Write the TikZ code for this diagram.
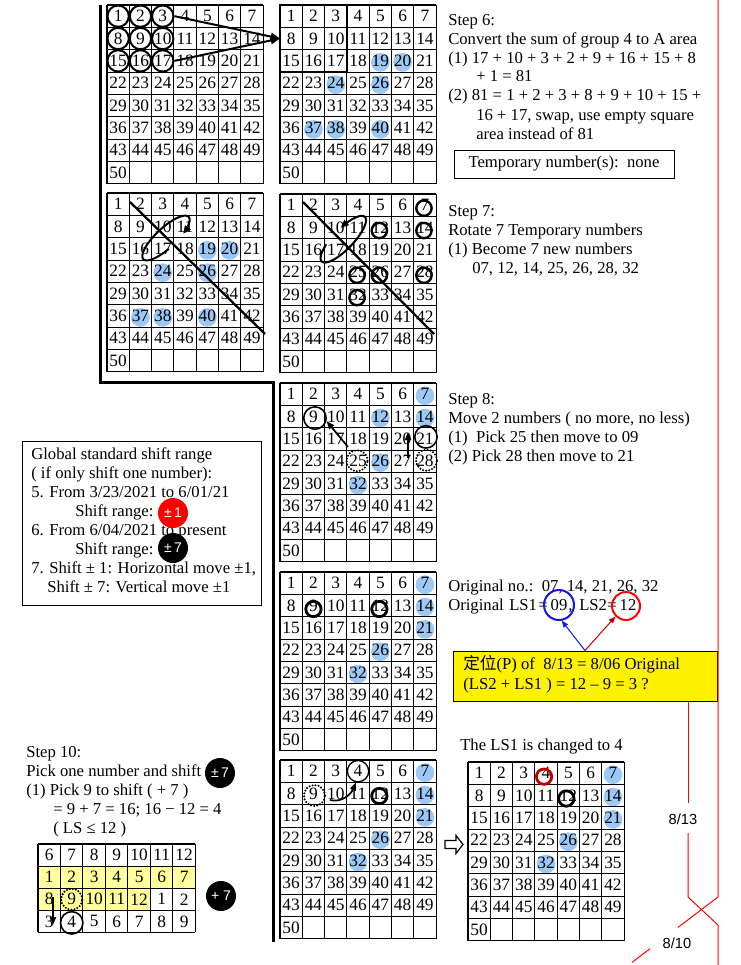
\documentclass[tikz,border=0pt]{standalone}
\usepackage{fontspec}
\setmainfont{Liberation Serif}
\newfontfamily\sansf{Liberation Sans}
\newfontfamily\cjkf{Noto Sans CJK SC}
\usetikzlibrary{arrows.meta}
\pgfdeclarelayer{bg}
\pgfsetlayers{bg,main}
\definecolor{bluedot}{RGB}{155,200,245}
\definecolor{lightyel}{RGB}{255,255,155}
\definecolor{dred}{RGB}{192,0,0}
\definecolor{lsblue}{RGB}{20,20,230}
\definecolor{redline}{RGB}{255,0,0}
\newcommand\mytxt{\fontsize{12.5pt}{15pt}\selectfont}
\newcommand\mynum{\fontsize{13pt}{15pt}\selectfont}
\newcommand\mysans{\sansf\fontsize{10.5pt}{12pt}\selectfont}
\newcommand\mylab{\sansf\fontsize{11pt}{13pt}\selectfont}
\def\cw{22.3}
\def\ch{22.35}
\newcommand\lotgrid[3]{%
  \foreach \kk in {0,...,7} \draw[gl] ({#2+\cw*\kk},#3) -- ++(0,{8*\ch});
  \foreach \kk in {0,...,8} \draw[gl] (#2,{#3+\ch*\kk}) -- ++({7*\cw},0);
  \foreach \rr in {0,...,7} {\foreach \cc in {0,...,6} {
    \pgfmathtruncatemacro\nn{7*\rr+\cc+1}
    \ifnum\nn<51 \node[num] (#1-\nn) at ({#2+\cw*(\cc+0.5)},{#3+\ch*(\rr+0.5)}) {\nn};\fi
  }}%
}
\newcommand\bluedots[2]{%
  \begin{pgfonlayer}{bg}
  \foreach \bb in {#2} {\fill[bluedot] ([shift={(0,1.5)}]#1-\bb) circle[radius=7pt];}
  \end{pgfonlayer}%
}
\newcommand\ringat[4]{\node[#1] (#2) at ([shift={#3}]#4) {};}
\begin{document}
\begin{tikzpicture}[x=0.75pt,y=-0.75pt,
  gl/.style={line width=0.8pt},
  num/.style={font=\mynum, inner sep=0pt},
  txt/.style={font=\mytxt, anchor=west, inner sep=0pt, text height=0.7em, text depth=0.22em},
  txtc/.style={font=\mytxt, inner sep=0pt, text height=0.7em, text depth=0.22em},
  ringA/.style={circle, draw, line width=1.5pt, minimum size=16pt, inner sep=0pt},
  ringB/.style={circle, draw, line width=1.8pt, minimum size=11.5pt, inner sep=0pt},
  ringH/.style={circle, draw, line width=2.1pt, minimum size=11.5pt, inner sep=0pt},
  ringC/.style={circle, draw, line width=1.2pt, minimum size=16.8pt, inner sep=0pt},
  ringT/.style={circle, draw, line width=1pt, minimum size=16pt, inner sep=0pt},
  ringD/.style={circle, draw, line width=1.7pt, minimum size=15.8pt, inner sep=0pt, dash pattern=on 0pt off 2.3pt, line cap=round},
  badge/.style={circle, fill=black, text=white, minimum size=22.5pt, inner sep=0pt, font=\mysans},
  arr/.style={line width=1.5pt, -{Triangle[length=7pt,width=5.5pt]}},
  arrB/.style={line width=1.3pt, -{Triangle[length=6pt,width=4.5pt]}},
  arrE/.style={line width=1.5pt, -{Triangle[length=6pt,width=5pt]}},
  thinarr/.style={line width=0.75pt, -{Triangle[length=5pt,width=4pt]}},
  redl/.style={draw=redline, line width=0.75pt},
  boxl/.style={draw, line width=0.75pt, inner sep=0pt}]
\begin{pgfonlayer}{bg}
\fill[white] (0,0) rectangle (740,965);
\end{pgfonlayer}
\useasboundingbox (0,0) rectangle (740,965);

% ---------- grids ----------
\lotgrid{g1}{107}{5}
\lotgrid{g2}{280}{5}
\lotgrid{g3}{107}{193}
\lotgrid{g4}{280}{194}
\lotgrid{g5}{280}{383}
\lotgrid{g6}{280}{572}
\lotgrid{g7}{280}{760}
\lotgrid{g8}{468}{762}

\bluedots{g2}{19,20,24,26,37,38,40}
\bluedots{g3}{19,20,24,26,37,38,40}
\bluedots{g5}{7,12,14,26,32}
\bluedots{g6}{7,14,21,26,32}
\bluedots{g7}{7,14,21,26,32}
\bluedots{g8}{7,14,21,26,32}

% ---------- thick L line ----------
\draw[line width=2.25pt] (100,5) -- (100,382) -- (273,382) -- (273,942);

% ---------- step 6 grids ----------
\foreach \q in {1,2,3,8,9,10,15,16,17} {\node[ringA] (r1-\q) at (g1-\q) {};}
\coordinate (tip) at (280,38.5);
\draw[arr] (r1-3.east) -- (tip);
\draw[arr] (r1-17.east) -- (tip);
\draw[line width=1.7pt] (280,5) rectangle ++({3*\cw},{3*\ch});

% ---------- step 7 grids ----------
\draw[line width=1.7pt] (130,202) -- (265,334);
\draw[line width=1.7pt] (303,202) -- (434,334);
\draw[arrE] plot[domain=100:420, samples=60, smooth] ({166+31*cos(\x)*0.731+10*sin(\x)*0.682},{238-31*cos(\x)*0.682+10*sin(\x)*0.731});
\draw[arrE] plot[domain=240:-78, samples=60, smooth] ({343.3+31*cos(\x)*0.695+10*sin(\x)*0.719},{239.2-31*cos(\x)*0.719+10*sin(\x)*0.695});
\foreach \q in {7,12,14,25,26,28,32} {\ringat{ringB}{r4-\q}{(-1,3)}{g4-\q}}

% ---------- step 8 grid ----------
\ringat{ringC}{r5-9}{(1.5,1.5)}{g5-9}
\ringat{ringC}{r5-21}{(1,-2)}{g5-21}
\ringat{ringD}{d5-25}{(-1,-0.5)}{g5-25}
\ringat{ringD}{d5-28}{(1.5,-1)}{g5-28}
\coordinate (m1) at (348,447);
\draw[arrB] (m1) -- (r5-9.-15);
\coordinate (m2) at (408,458);
\coordinate (m2e) at (408,432);
\draw[arrB] (m2) -- (m2e);

% ---------- grid 6 ----------
\ringat{ringH}{r6-9}{(0,3.5)}{g6-9}
\ringat{ringH}{r6-12}{(-1,3.5)}{g6-12}

% ---------- grid 7 ----------
\ringat{ringT}{r7-4}{(0,0)}{g7-4}
\ringat{ringH}{r7-12}{(-1,2.5)}{g7-12}
\ringat{ringD}{d7-9}{(1,2)}{g7-9}
\coordinate (c7s) at (330,800);
\draw[arrB] (c7s) .. controls (342,803) and (351,794) .. (r7-4.-100);

% ---------- grid 8 ----------
\ringat{ringH, draw=dred}{r8-4}{(-2,3.5)}{g8-4}
\ringat{ringH}{r8-12}{(-2,3)}{g8-12}
\draw[line width=0.9pt] (445,840.5) -- (456,840.5) -- (456,835.5) -- (463,844.5) -- (456,853.5) -- (456,848.5) -- (445,848.5) -- cycle;

% ---------- step texts ----------
\node[txt] (s6a) at (448,22) {Step 6:};
\node[txt] (s6b) at (448,41) {Convert the sum of group 4 to A area};
\node[txt] (s6c) at (448,60) {(1) 17 + 10 + 3 + 2 + 9 + 16 + 15 + 8};
\node[txt] (s6d) at (476,78) {+ 1 = 81};
\node[txt] (s6e) at (448,97) {(2) 81 = 1 + 2 + 3 + 8 + 9 + 10 + 15 +};
\node[txt] (s6f) at (476,117) {16 + 17, swap, use empty square};
\node[txt] (s6g) at (476,136) {area instead of 81};
\node[boxl, minimum width=165pt, minimum height=21pt, font=\mytxt] (tbox) at (564,164) {Temporary number(s):\ \ none};

\node[txt] (s7a) at (448,213) {Step 7:};
\node[txt] (s7b) at (448,232) {Rotate 7 Temporary numbers};
\node[txt] (s7c) at (448,251) {(1) Become 7 new numbers};
\node[txt] (s7d) at (472,270) {07, 12, 14, 25, 26, 28, 32};

\node[txt] (s8a) at (448,401) {Step 8:};
\node[txt] (s8b) at (448,420) {Move 2 numbers ( no more, no less)};
\node[txt] (s8c) at (448,439) {(1)\ \ Pick 25 then move to 09};
\node[txt] (s8d) at (448,458) {(2) Pick 28 then move to 21};

\node[txt] (o1) at (448,588) {Original no.:\ \ 07, 14, 21, 26, 32};
\node[txt] (o2a) at (448,607) {Original};
\node[txt] (o2b) at (509,607) {LS1};
\node[txtc] (o2e1) at (543,607) {=};
\node[txtc] (n09) at (559,607) {09};
\node[txt] (o2c) at (568,607) {,};
\node[txt] (o2d) at (579,607) {LS2};
\node[txtc] (o2e2) at (612,607) {=};
\node[txtc] (n12) at (628,607) {12};
\node[circle, draw=lsblue, line width=1.5pt, minimum size=22.5pt, inner sep=0pt] (ls1) at ([shift={(0,-2)}]n09) {};
\node[circle, draw=redline, line width=1.5pt, minimum size=21pt, inner sep=0pt] (ls2) at ([shift={(-2,-1)}]n12) {};
\node[boxl, fill=yellow, minimum width=198pt, minimum height=37.5pt] (ybox) at (585,676) {};
\node[txt] (y1) at (463,666) {{\cjkf 定位}(P) of\ \ 8/13 = 8/06 Original};
\node[txt] (y2) at (463,686) {(LS2 + LS1 ) = 12 – 9 = 3 ?};
\draw[thinarr, draw=lsblue] (ybox.north) -- (ls1.-80);
\draw[thinarr, draw=dred] (ybox.north) -- (ls2.225);
\node[txt] (lsc) at (460,747) {The LS1 is changed to 4};

% ---------- left box ----------
\node[boxl, minimum width=179.25pt, minimum height=123pt] (lbox) at (141.5,523) {};
\node[txt] (k1) at (31,456) {Global standard shift range};
\node[txt] (k2) at (31,475) {( if only shift one number):};
\node[txt] (k3) at (31,494) {5. From 3/23/2021 to 6/01/21};
\node[txt] (k4) at (75,513) {Shift range:};
\node[txt] (k5) at (31,532) {6. From 6/04/2021 to present};
\node[txt] (k6) at (75,551) {Shift range:};
\node[txt] (k7) at (31,570) {7. Shift ± 1: Horizontal move ±1,};
\node[txt] (k8) at (47,589) {Shift ± 7: Vertical move ±1};
\node[badge, fill=red] (b1) at (173,513) {±\,1};
\node[badge] (b2) at (173,548) {±\,7};

% ---------- step 10 ----------
\node[txt] (t1) at (26,754) {Step 10:};
\node[txt] (t2) at (26,773) {Pick one number and shift};
\node[txt] (t3) at (26,792) {(1) Pick 9 to shift ( + 7 )};
\node[txt] (t4) at (53,811) {= 9 + 7 = 16; 16 − 12 = 4};
\node[txt] (t5) at (53,830) {( LS ≤ 12 )};
\node[badge] (b3) at (220,773) {±\,7};
\node[badge] (b4) at (221,896) {+ 7};

\fill[lightyel] (38,{844+22.1}) rectangle ++({7*22.48},22.1);
\fill[lightyel] (38,{844+2*22.1}) rectangle ++({5*22.48},22.1);
\foreach \kk in {0,...,7} \draw[gl] ({38+22.48*\kk},844) -- ++(0,{4*22.1});
\foreach \kk in {0,...,4} \draw[gl] (38,{844+22.1*\kk}) -- ++({7*22.48},0);
\foreach \row [count=\rr from 0] in {{6,7,8,9,10,11,12},{1,2,3,4,5,6,7},{8,9,10,11,12,1,2},{3,4,5,6,7,8,9}} {
  \foreach \v [count=\cc from 0] in \row {
    \node[num] (s-\rr-\cc) at ({38+22.48*(\cc+0.5)},{844+22.1*(\rr+0.5)}) {\v};
  }
}
\ringat{ringD}{ds9}{(0,0)}{s-2-1}
\ringat{ringC}{rs4}{(0,1.5)}{s-3-1}
\coordinate (sa) at (53,897);
\coordinate (sb) at (53,925);
\draw[arrB] (sa) -- (sb);

% ---------- red date lines ----------
\draw[redl] (718,0) -- (718,897) -- (678,927.4);
\draw[redl] (650,948.7) -- (632,962.4);
\draw[redl] (ybox.south -| 688,0) -- (688,803);
\draw[redl] (688,833) -- (688,897) -- (718,925) -- (718,965);
\node[font=\mylab] (l813) at (683,819) {8/13};
\node[font=\mylab] (l810) at (677,943) {8/10};
\end{tikzpicture}
\end{document}
